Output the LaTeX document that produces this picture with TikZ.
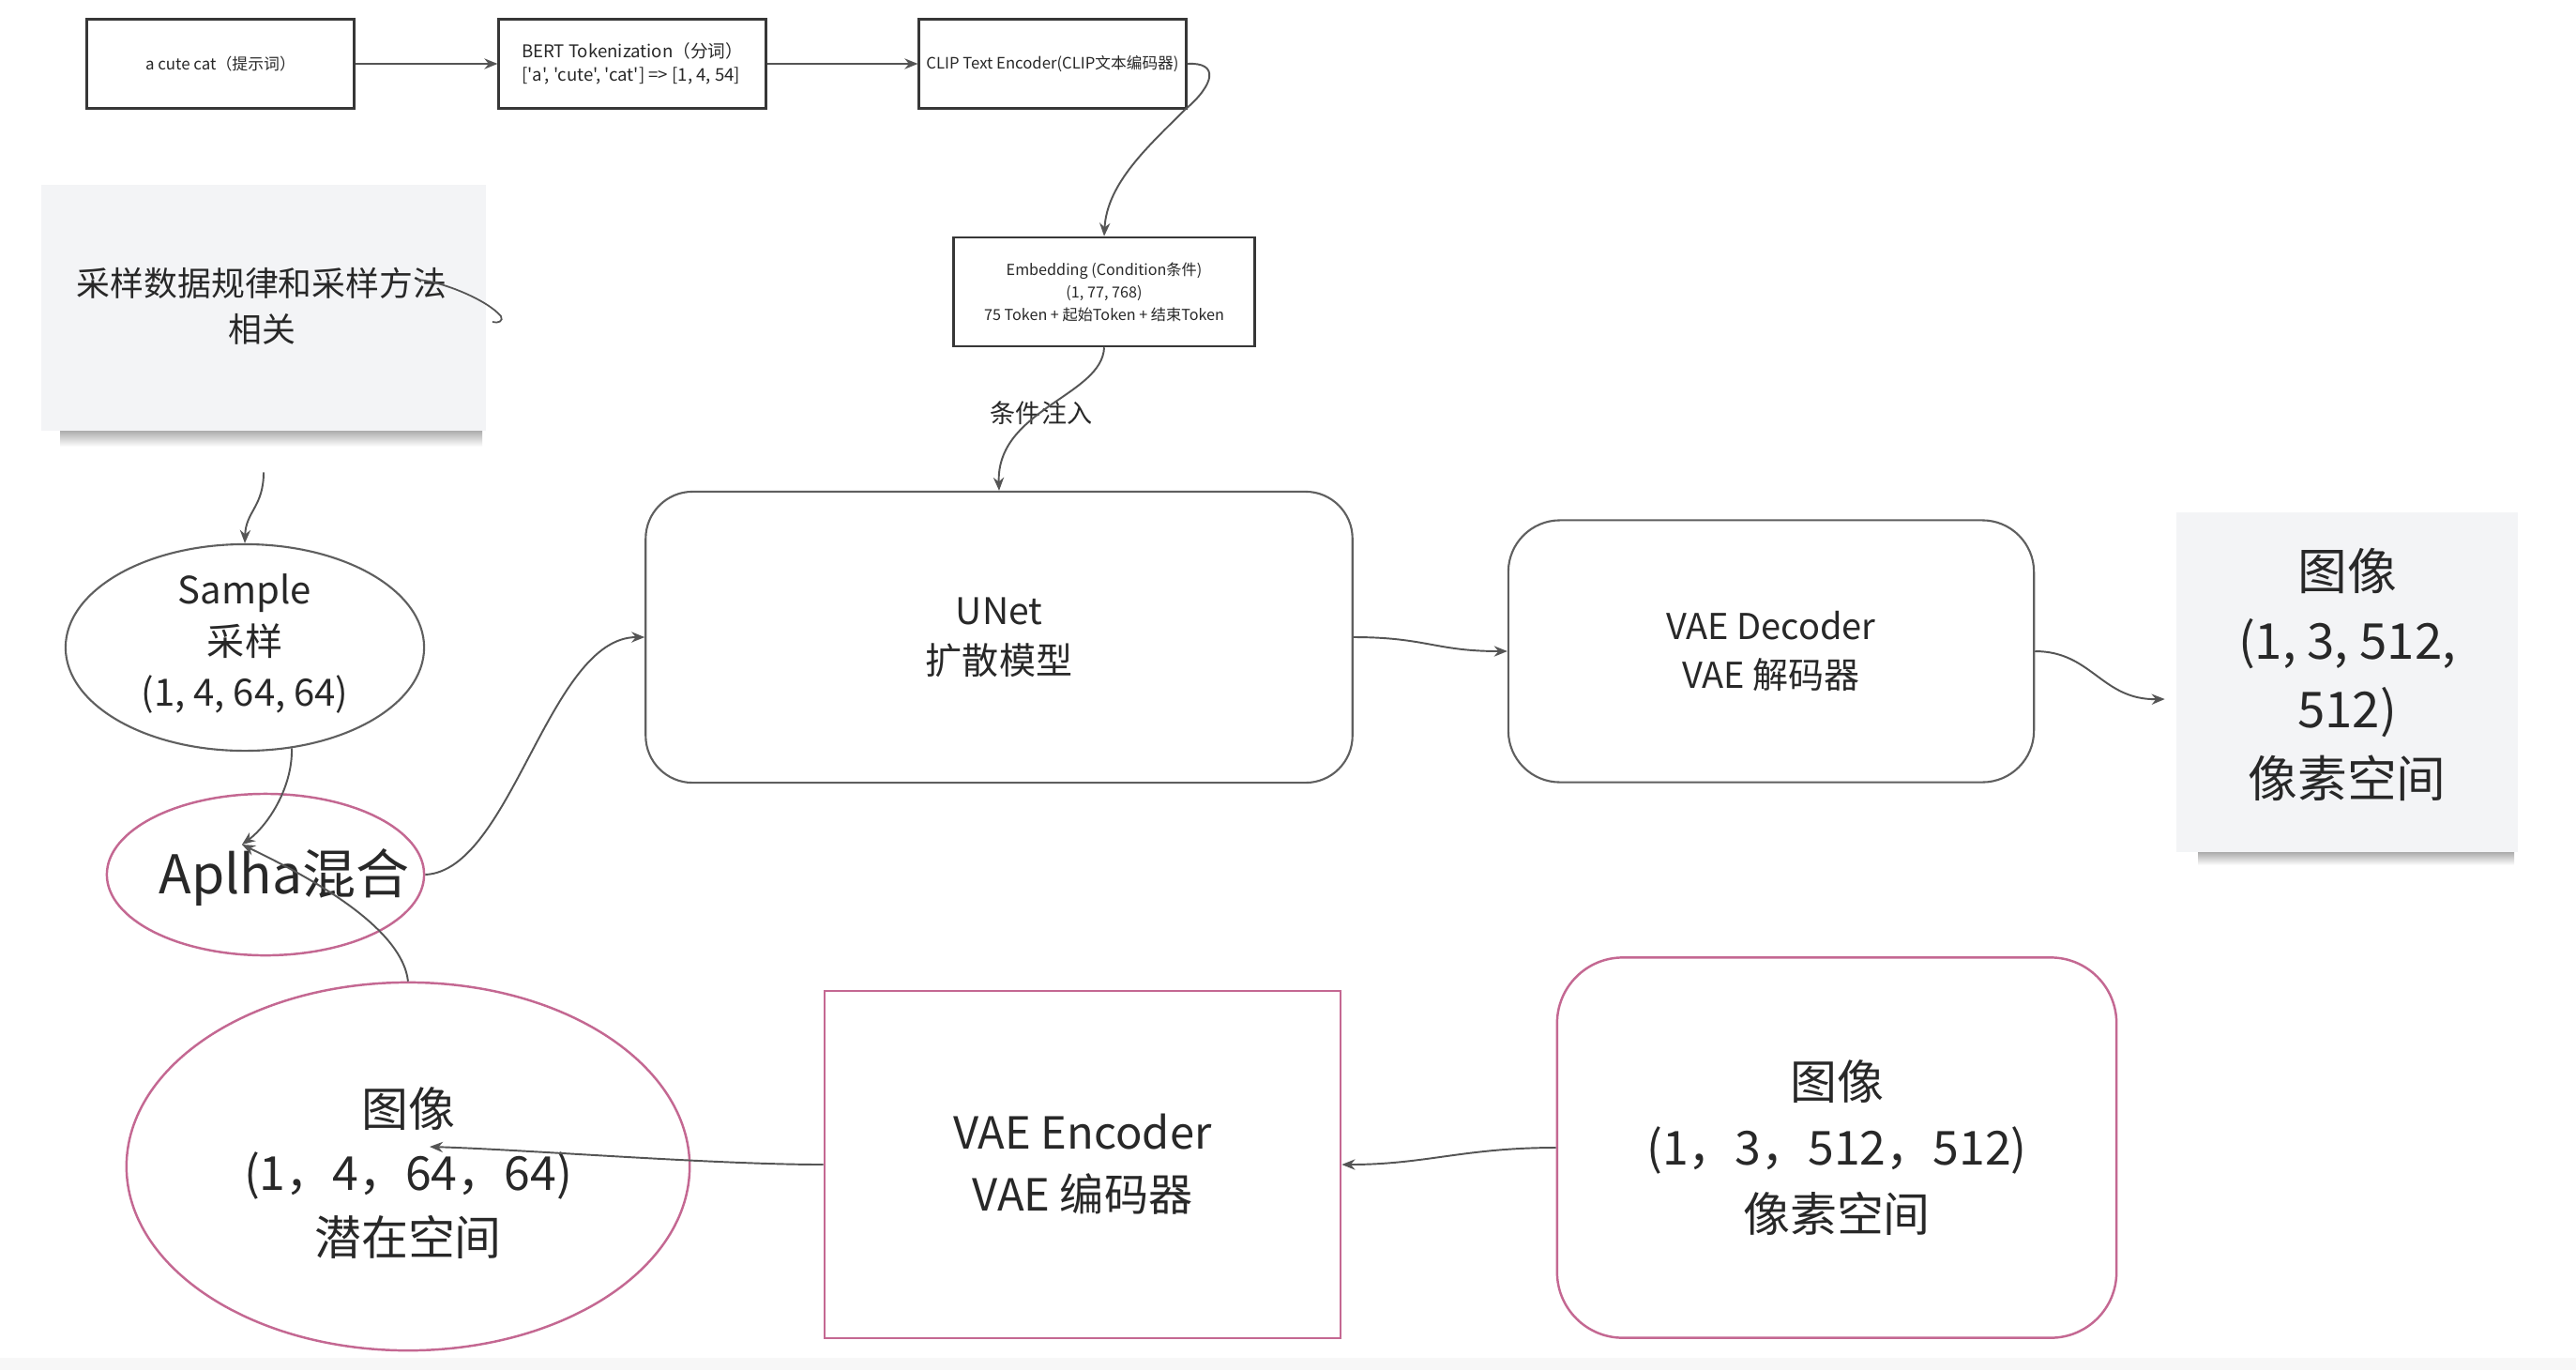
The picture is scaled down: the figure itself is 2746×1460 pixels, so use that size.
\documentclass[tikz,border=0pt]{standalone}
\usepackage{fontspec}
\setmainfont{Noto Sans CJK SC}
\newfontfamily\plainf{Noto Sans CJK SC}
\usetikzlibrary{shapes.geometric,arrows.meta}
\definecolor{pinkc}{RGB}{196,104,146}
\definecolor{boxgray}{RGB}{95,95,95}
\definecolor{linegray}{RGB}{85,85,85}
\definecolor{boxdark}{RGB}{55,55,55}
\definecolor{notegray}{RGB}{243,244,246}
\definecolor{textc}{RGB}{40,40,40}
\newcommand\myfs[2]{\fontsize{#1}{#2}\selectfont}
\begin{document}
\begin{tikzpicture}[x=0.01cm,y=-0.01cm,
  every node/.style={text=textc},
  topbox/.style={draw=boxdark,line width=0.85pt,minimum width=2.84cm,minimum height=0.95cm,inner sep=0pt,align=center,font=\myfs{4.8}{6.6}},
  conn/.style={draw=linegray,line width=0.55pt,-{Stealth[length=4pt,width=3.2pt]}},
  softbox/.style={draw=boxgray,line width=0.6pt,align=center,inner sep=0pt},
  pinkbox/.style={draw=pinkc,line width=0.7pt,inner sep=0pt},
  notebox/.style={fill=notegray,inner sep=0pt},
  lbl/.style={align=center,inner sep=0pt}
]
\fill[white] (0,0) rectangle (2746,1460);
\useasboundingbox (0,0) rectangle (2746,1460);
\fill[black!3] (0,1447) rectangle (2746,1460);

% ---------- top row ----------
\node[topbox] (prompt) at (235,68) {a cute cat（提示词）};
\node[topbox,align=left,font=\plainf\myfs{5.3}{7.2}] (bert) at (674,68) {BERT Tokenization（分词）\\{[}'a', 'cute', 'cat'{]} => {[}1, 4, 54{]}};
\node[topbox,font=\myfs{4.75}{6}] (clip) at (1122,68) {CLIP Text Encoder(CLIP文本编码器)};
\node[draw=boxdark,line width=0.7pt,minimum width=3.21cm,minimum height=1.16cm,inner sep=0pt,align=center,font=\myfs{4.6}{6.8}] (emb) at (1177,311)
  {Embedding (Condition条件)\\(1, 77, 768)\\75 Token + 起始Token + 结束Token};
\node[lbl,font=\myfs{7.7}{9}] (cond) at (1110,440) {条件注入};

% ---------- left sticky note ----------
\shade[top color=black!40,bottom color=white] (64,455) rectangle (514,476);
\node[notebox,minimum width=4.74cm,minimum height=2.61cm] (note) at (281,328) {};
\node[lbl,font=\myfs{10.2}{14}] (notetxt) at (279,326) {采样数据规律和采样方法\\相关};
\draw[linegray,line width=0.5pt] (445,298) .. controls (472,300) and (520,320) .. (534,337) .. controls (537,342) and (531,345) .. (525,343);

% ---------- sample / alpha / latent ----------
\node[ellipse,softbox,minimum width=3.82cm,minimum height=2.2cm] (sample) at (261,690) {};
\node[lbl,font=\myfs{11.4}{15.4}] (sampletxt) at (261,686) {Sample\\采样\\(1, 4, 64, 64)};
\node[ellipse,pinkbox,minimum width=3.38cm,minimum height=1.72cm] (alpha) at (283,932) {};
\node[lbl,font=\myfs{16.2}{18}] (alphatxt) at (303,935) {Aplha混合};
\coordinate (mix) at (258,900);
\node[ellipse,pinkbox,minimum width=6.0cm,minimum height=3.92cm] (latent) at (435,1243) {};
\node[lbl,font=\myfs{14.2}{19.4}] (latenttxt) at (435,1250) {图像\\(1，4，64，64)\\潜在空间};
\coordinate (latin) at (458,1222);

% ---------- main boxes ----------
\node[softbox,rounded corners=0.5cm,minimum width=7.53cm,minimum height=3.10cm,font=\myfs{11.1}{15}] (unet) at (1065,679) {UNet\\扩散模型};
\node[softbox,rounded corners=0.55cm,minimum width=5.60cm,minimum height=2.79cm,font=\myfs{10.8}{15}] (dec) at (1888,694) {VAE Decoder\\VAE 解码器};
\shade[top color=black!40,bottom color=white] (2343,905) rectangle (2680,922);
\node[notebox,minimum width=3.63cm,minimum height=3.61cm] (out) at (2502,727) {};
\node[lbl,font=\myfs{15}{21}] (outtxt) at (2502,719) {图像\\(1, 3, 512,\\512)\\像素空间};

\node[pinkbox,minimum width=5.50cm,minimum height=3.70cm,align=center,font=\myfs{13.4}{18.8}] (enc) at (1154,1241) {VAE Encoder\\VAE 编码器};
\node[pinkbox,rounded corners=0.7cm,minimum width=5.96cm,minimum height=4.05cm,align=center,font=\myfs{14.2}{20}] (pix) at (1958,1223) {图像\\(1，3，512，512)\\像素空间};

% ---------- connectors ----------
\draw[conn] (prompt.east) -- (bert.west);
\draw[conn] (bert.east) -- (clip.west);
\draw[conn] (clip.east) .. controls (1300,66) and (1295,90) .. (1263,117) .. controls (1225,155) and (1180,195) .. (emb.north);
\draw[conn] (emb.south) .. controls (1175,422) and (1062,436) .. (unet.north);
\draw[conn] ([yshift=-0.44cm]note.south) .. controls (281,540) and (262,545) .. (sample.north);
\draw[conn] (sample.-65) .. controls (312,840) and (285,880) .. (mix);
\draw[conn] (latent.north) .. controls (428,985) and (320,930) .. (mix);
\draw[conn] (alpha.east) .. controls (545,928) and (585,679) .. (unet.west);
\draw[conn] (unet.east) .. controls (1520,679) and (1530,694) .. (dec.west);
\draw[conn] (dec.east) .. controls (2230,694) and (2240,746) .. ([xshift=-0.12cm,yshift=-0.18cm]out.west);
\draw[conn] (pix.west) .. controls (1560,1223) and (1520,1241) .. (enc.east);
\draw[conn] (enc.west) .. controls (760,1241) and (560,1225) .. (latin);
\end{tikzpicture}
\end{document}
